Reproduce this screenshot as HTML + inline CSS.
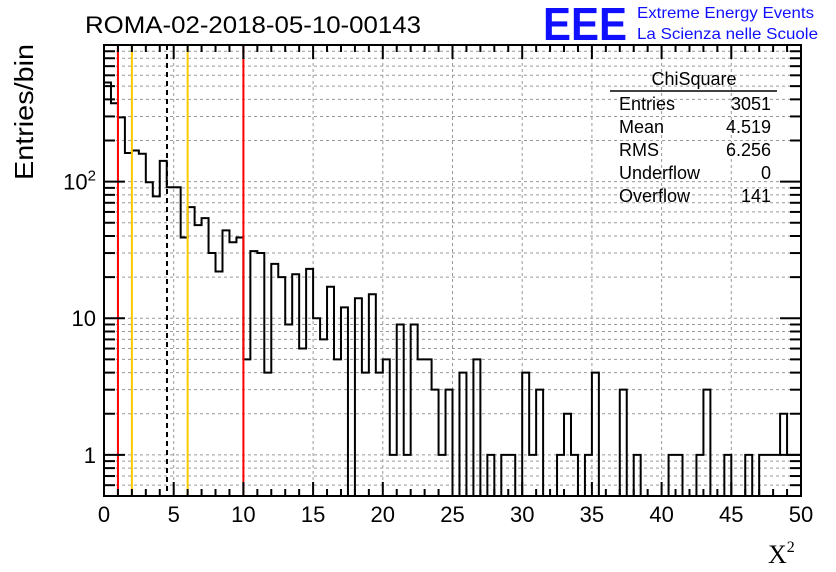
<!DOCTYPE html>
<html><head><meta charset="utf-8"><style>
body{margin:0;background:#fff;}
svg{display:block;font-family:"Liberation Sans",sans-serif;}
</style></head><body>
<svg id="c" width="836" height="572" viewBox="0 0 836 572">
<text x="85" y="33" font-size="24" textLength="336" lengthAdjust="spacingAndGlyphs">ROMA-02-2018-05-10-00143</text>
<text x="543" y="40" font-size="46" font-weight="bold" fill="#1010ff" textLength="84" lengthAdjust="spacingAndGlyphs">EEE</text>
<text x="637" y="18" font-size="16" fill="#1010ff" textLength="177" lengthAdjust="spacingAndGlyphs">Extreme Energy Events</text>
<text x="637" y="39" font-size="16" fill="#1010ff" textLength="181" lengthAdjust="spacingAndGlyphs">La Scienza nelle Scuole</text>
<text transform="translate(33,180) rotate(-90)" font-size="26" textLength="136" lengthAdjust="spacingAndGlyphs">Entries/bin</text>
<text x="768" y="563" font-size="26" font-family="Liberation Serif,serif">X<tspan dy="-11" font-size="16">2</tspan></text>
<g id="grid"></g><g id="marks"></g><g id="axes"></g>
<g font-size="18">
<text x="694" y="85" text-anchor="middle">ChiSquare</text>
<line x1="610" y1="91" x2="777" y2="91" stroke="#000" stroke-width="1.5"/>
<text x="619" y="110">Entries</text><text x="771" y="110" text-anchor="end">3051</text>
<text x="619" y="133">Mean</text><text x="771" y="133" text-anchor="end">4.519</text>
<text x="619" y="156">RMS</text><text x="771" y="156" text-anchor="end">6.256</text>
<text x="619" y="179">Underflow</text><text x="771" y="179" text-anchor="end">0</text>
<text x="619" y="202">Overflow</text><text x="771" y="202" text-anchor="end">141</text>
</g>
</svg>
<script>
const counts=[531,375,295,162,169,160,99,78,142,91,91,39,65,48,54,30,22,44,36,39,
5,31,30,4,25,20,9,21,6,23,10,7,17,5,12,0,14,4,15,4,
5,1,9,1,9,5,5,3,1,3,0,4,0,5,0,1,0,1,1,0,
4,1,3,0,0,1,2,1,0,1,4,0,0,0,3,0,1,0,0,0,
0,1,1,0,0,1,3,0,0,1,0,0,1,0,1,1,1,2,1,1];
const binWidth=0.5;
const xTickLabels=[0,5,10,15,20,25,30,35,40,45,50];
const yTickLabels=[1,10,100];
const yTickText=["1","10","10²"];
const refRed=[1,10];
const refYellow=[2,6];
const meanValue=4.519;

const L=104,R=801,T=45,B=496,xmin=0,xmax=50,ymin=0.5,ymax=1000;
const X=v=>L+(v-xmin)/(xmax-xmin)*(R-L);
const Y=v=>B-(Math.log10(v)-Math.log10(ymin))/(Math.log10(ymax)-Math.log10(ymin))*(B-T);
const NS="http://www.w3.org/2000/svg";
function mk(p,tag,a){const e=document.createElementNS(NS,tag);for(const k in a)e.setAttribute(k,a[k]);p.appendChild(e);return e;}
const grid=document.getElementById('grid'),marks=document.getElementById('marks'),axes=document.getElementById('axes');
for(const t of xTickLabels){if(t===0||t===50)continue;const g=mk(grid,'line',{x1:X(t),x2:X(t),y1:T,y2:B,stroke:'#999','stroke-dasharray':'3,3','stroke-width':1});

}
for(let d=-1;d<3;d++)for(let m=1;m<10;m++){const v=m*Math.pow(10,d);if(v<ymin||v>ymax)continue;const g=mk(grid,'line',{x1:L,x2:R,y1:Y(v),y2:Y(v),stroke:'#999','stroke-dasharray':'3,3','stroke-width':1});

}
let d='';
counts.forEach((c,i)=>{const x0=X(i*binWidth),x1=X((i+1)*binWidth);const y=c>0?Y(c):B;d+=(i===0?`M${x0},${y}`:`L${x0},${y}`)+`L${x1},${y}`;});
d+=`L${X(counts.length*binWidth)},${B}`;
const h=mk(marks,'path',{d:d,fill:'none',stroke:'#000','stroke-width':2});


refRed.forEach(v=>{const l=mk(marks,'line',{x1:X(v),x2:X(v),y1:T,y2:B,stroke:'#ff0000','stroke-width':2});

});
refYellow.forEach(v=>{const l=mk(marks,'line',{x1:X(v),x2:X(v),y1:T,y2:B,stroke:'#ffcc00','stroke-width':2});

});
const ml=mk(marks,'line',{x1:X(meanValue),x2:X(meanValue),y1:T,y2:B,stroke:'#000','stroke-width':2,'stroke-dasharray':'5,4'});


const fr=mk(axes,'rect',{x:L,y:T,width:R-L,height:B-T,fill:'none',stroke:'#000','stroke-width':2});


for(let v=0;v<=50;v++){const len=v%5===0?14:7;
mk(axes,'line',{x1:X(v),x2:X(v),y1:B,y2:B-len,stroke:'#000','stroke-width':2});
mk(axes,'line',{x1:X(v),x2:X(v),y1:T,y2:T+len,stroke:'#000','stroke-width':2});}
xTickLabels.forEach(t=>{const tx=mk(axes,'text',{x:X(t),y:522,'text-anchor':'middle','font-size':22});tx.textContent=t;

});
for(let dd=-1;dd<3;dd++)for(let m=1;m<10;m++){const v=m*Math.pow(10,dd);if(v<ymin||v>ymax)continue;const len=m===1?21:11;
mk(axes,'line',{x1:L,x2:L+len,y1:Y(v),y2:Y(v),stroke:'#000','stroke-width':2});
mk(axes,'line',{x1:R,x2:R-len,y1:Y(v),y2:Y(v),stroke:'#000','stroke-width':2});}
yTickLabels.forEach((t,i)=>{const tx=mk(axes,'text',{x:96,y:Y(t)+8,'text-anchor':'end','font-size':22});
if(t===100){tx.textContent='10';const s=mk(tx,'tspan',{dy:-9,'font-size':15});s.textContent='2';}else tx.textContent=yTickText[i];

});
</script>
</body></html>
